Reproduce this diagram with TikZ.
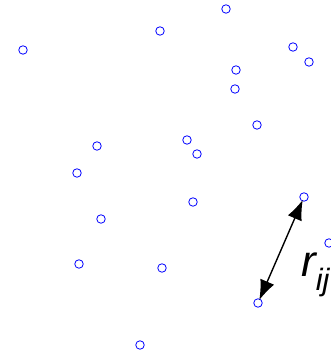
\documentclass[tikz,border=0pt]{standalone}
\usepackage{fontspec}
\setmainfont{Liberation Sans}
\usetikzlibrary{arrows.meta}

\begin{document}
\begin{tikzpicture}[
  x=1pt, y=1pt,
  site/.style={draw=blue, circle, line width=0.8pt, minimum size=8.5pt,
    inner sep=0pt},
  dist/.style={arrows={Latex[length=20pt, width=15pt]-Latex[length=20pt, width=15pt]},
    line width=1.4pt, shorten <=-1.5pt, shorten >=-1.5pt},
  lbl/.style={font=\fontsize{44}{44}\selectfont\itshape, inner sep=0pt}
]
\useasboundingbox (0,0) rectangle (330,355);
\foreach \px/\py [count=\i] in {226/346, 160/324, 23/305, 293/308, 309/293,
    236/285, 235/266, 257/230, 187/215, 197/201, 97/209, 77/182, 193/153,
    101/136, 79/91, 162/87, 140/10, 304/158, 258/52, 329/112}
  \node[site] (p\i) at (\px,\py) {};
\node[lbl, anchor=base west] (rij) at (301,78) {r\textsubscript{ij}};
\draw[dist] (p19) -- (p18);
\end{tikzpicture}
\end{document}
